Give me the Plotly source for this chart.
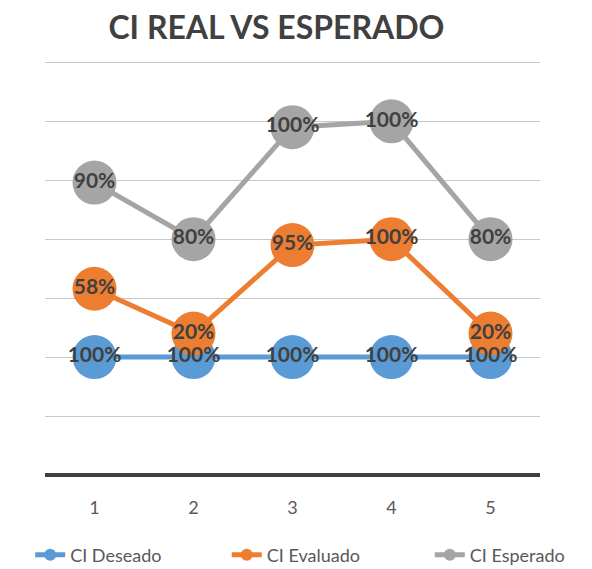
import numpy as np
import plotly.graph_objects as go

categories = [1, 2, 3, 4, 5]
ci_deseado = [100, 100, 100, 100, 100]
ci_evaluado = [58, 20, 95, 100, 20]
ci_esperado = [90, 80, 100, 100, 80]
series_names = ["CI Deseado", "CI Evaluado", "CI Esperado"]
colors = ["#5B9BD5", "#ED7D31", "#A5A5A5"]
legend_ids = ["legend", "legend2", "legend3"]
legend_x = [0.051, 0.383, 0.726]

values = [ci_deseado, ci_evaluado, ci_esperado]
stacked = np.cumsum(np.array(values, dtype=float), axis=0)

fig = go.Figure()
for name, vals, ys, col, lg in zip(series_names, values, stacked, colors, legend_ids):
    fig.add_trace(go.Scatter(
        x=categories, y=ys, name=name, mode="lines+markers", legend=lg,
        line=dict(color=col, width=5),
        marker=dict(color=col, size=44, line=dict(width=0)),
        hoverinfo="skip",
    ))
for name, vals, ys in zip(series_names, values, stacked):
    fig.add_trace(go.Scatter(
        x=categories, y=ys, mode="text", showlegend=False,
        text=[f"{v}%" for v in vals], textposition="middle center",
        textfont=dict(family="Lato", size=21, color="#404040", weight="bold"),
        hoverinfo="skip",
    ))

legend_font = dict(family="Lato", size=18, color="#595959")
legends = {}
for lg, lx in zip(legend_ids, legend_x):
    legends[lg] = dict(orientation="h", xref="container", yref="container", x=lx, xanchor="left",
                       y=0.0246, yanchor="middle", itemsizing="constant", font=legend_font,
                       bgcolor="rgba(0,0,0,0)")

fig.update_layout(
    width=592, height=569,
    paper_bgcolor="white", plot_bgcolor="white",
    margin=dict(l=45, r=52, t=60, b=94),
    title=dict(text="<b>CI REAL VS ESPERADO</b>", xref="container", x=0.467, xanchor="center",
               yref="container", y=0.952, yanchor="middle",
               font=dict(family="Lato", size=32, color="#404040")),
    xaxis=dict(range=[0.5, 5.5], tickvals=categories, ticktext=[str(c) for c in categories],
               showgrid=False, zeroline=False, showline=False, ticks="",
               tickfont=dict(family="Lato", size=18, color="#595959"), ticklabelstandoff=20),
    yaxis=dict(range=[0, 352], tickvals=[50, 100, 150, 200, 250, 300, 350], showticklabels=False,
               showgrid=True, gridcolor="#C8C8C8", gridwidth=1, zeroline=True,
               zerolinecolor="#404040", zerolinewidth=4),
    showlegend=True,
    **legends,
)
fig.write_html("out.html", config={"displayModeBar": False},
               post_script="document.body.style.margin='0';")
